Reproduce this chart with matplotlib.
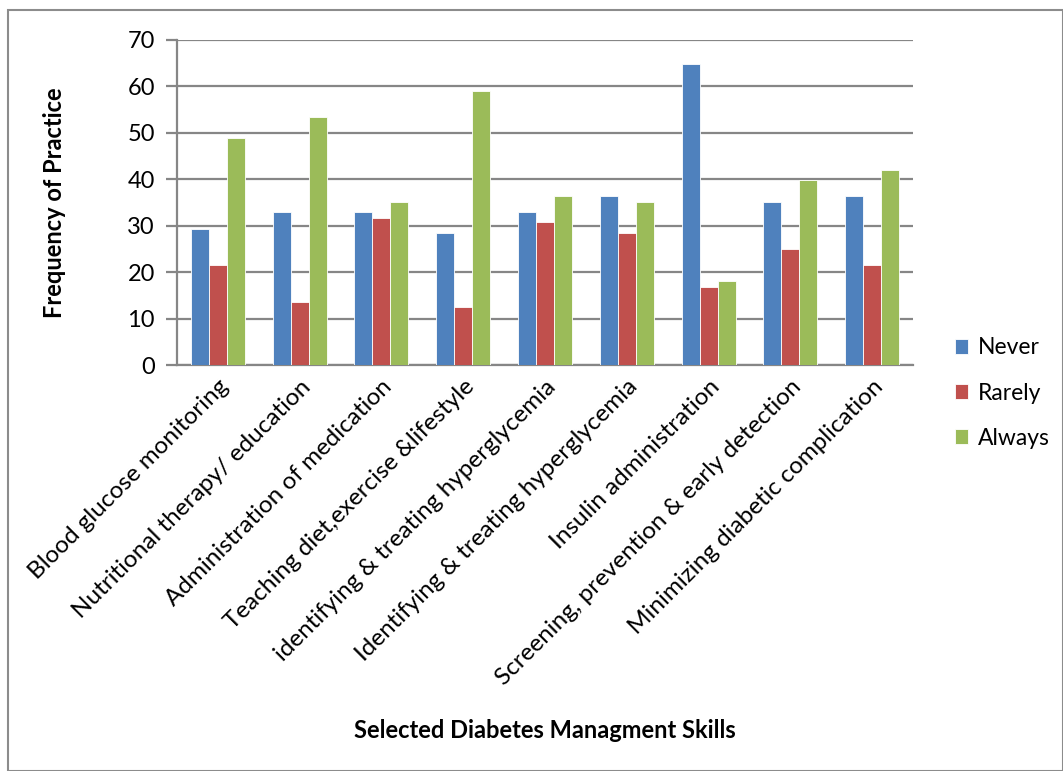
import numpy as np
import matplotlib.pyplot as plt
from matplotlib.patches import Rectangle

skills = [
    'Blood glucose monitoring',
    'Nutritional therapy/ education',
    'Administration of medication',
    'Teaching diet,exercise &lifestyle',
    'identifying & treating hyperglycemia',
    'Identifying & treating hyperglycemia',
    'Insulin administration',
    'Screening, prevention & early detection',
    'Minimizing diabetic complication',
]
never = [29.4, 33.0, 33.0, 28.4, 33.0, 36.4, 64.8, 35.2, 36.4]
rarely = [21.5, 13.5, 31.7, 12.4, 30.7, 28.4, 16.9, 24.9, 21.5]
always = [48.9, 53.4, 35.2, 59.1, 36.4, 35.2, 18.1, 39.8, 42.0]

series = [('Never', never, '#4F81BD'),
          ('Rarely', rarely, '#C0504D'),
          ('Always', always, '#9BBB59')]

plt.rcParams['font.family'] = ['Lato', 'DejaVu Sans']

fig = plt.figure(figsize=(10.63, 7.71), dpi=100)
ax = fig.add_axes([177 / 1063, 1 - 365 / 771, 736 / 1063, 325 / 771])

# outer chart border
fig.patches.append(Rectangle((8 / 1063, 0), (1063 - 8) / 1063, 1 - 10 / 771,
                             transform=fig.transFigure, fill=False,
                             edgecolor='#8c8c8c', linewidth=1.5))

x = np.arange(len(skills))
w = 0.22
for i, (name, vals, col) in enumerate(series):
    ax.bar(x + (i - 1) * w, vals, w, color=col, edgecolor='white',
           linewidth=0.6, label=name, zorder=3)

ax.set_xlim(-0.5, len(skills) - 0.5)
ax.set_ylim(0, 70)
ax.set_yticks(range(0, 71, 10))
ax.yaxis.grid(True, color='#868686', linewidth=1.6, zorder=0)
ax.set_axisbelow(True)

for s in ['top', 'right']:
    ax.spines[s].set_visible(False)
for s in ['left', 'bottom']:
    ax.spines[s].set_color('#868686')
    ax.spines[s].set_linewidth(1.6)

ax.tick_params(axis='y', length=8, width=1.6, color='#868686',
               labelsize=17, pad=8)
ax.tick_params(axis='x', length=0, labelsize=17.5, pad=8)
ax.set_xticks(x)
ax.set_xticklabels(skills, rotation=45, ha='right', rotation_mode='anchor')

ax.set_ylabel('Frequency of Practice', fontsize=17, fontweight='bold',
              labelpad=44)
fig.text(545 / 1063, 1 - 730 / 771, 'Selected Diabetes Managment Skills',
         ha='center', va='center', fontsize=17, fontweight='bold')

ax.legend(loc='center left', bbox_to_anchor=(934 / 1063, 1 - 393 / 771),
          bbox_transform=fig.transFigure, frameon=False, fontsize=16.5,
          handlelength=0.6, handleheight=0.6, labelspacing=1.05,
          handletextpad=0.4)

fig.savefig('out.png', dpi=100)
